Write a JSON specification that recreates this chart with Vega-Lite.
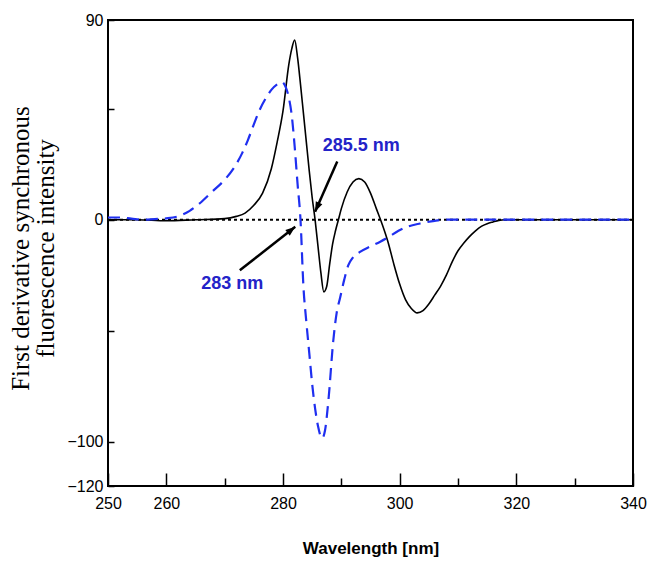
{
  "$schema": "https://vega.github.io/schema/vega-lite/v6.json",
  "width": 525,
  "height": 466,
  "autosize": {"type": "none"},
  "padding": {"left": 108, "top": 20, "right": 15, "bottom": 76},
  "background": "white",
  "config": {
    "view": {"stroke": "black", "strokeWidth": 2},
    "axis": {"grid": false, "domain": false, "tickColor": "black", "labelColor": "black", "titleColor": "black", "tickWidth": 1.5}
  },
  "datasets": {
    "solid": [
      {"wavelength": 250, "value": 0}, {"wavelength": 255, "value": 0}, {"wavelength": 260, "value": -0.5},
      {"wavelength": 265, "value": 0}, {"wavelength": 270, "value": 0.5}, {"wavelength": 272, "value": 1.5},
      {"wavelength": 273.5, "value": 3}, {"wavelength": 275, "value": 6.5}, {"wavelength": 276.5, "value": 12},
      {"wavelength": 278, "value": 23}, {"wavelength": 279, "value": 35}, {"wavelength": 280, "value": 49},
      {"wavelength": 281, "value": 70}, {"wavelength": 281.5, "value": 77}, {"wavelength": 282, "value": 81},
      {"wavelength": 282.5, "value": 73}, {"wavelength": 283, "value": 61}, {"wavelength": 283.5, "value": 48},
      {"wavelength": 284, "value": 35}, {"wavelength": 284.5, "value": 22}, {"wavelength": 285, "value": 10},
      {"wavelength": 285.5, "value": 0}, {"wavelength": 286, "value": -12}, {"wavelength": 286.5, "value": -24},
      {"wavelength": 287, "value": -32.5}, {"wavelength": 287.5, "value": -30}, {"wavelength": 288, "value": -20},
      {"wavelength": 288.5, "value": -11}, {"wavelength": 289, "value": -5}, {"wavelength": 289.5, "value": 0},
      {"wavelength": 290, "value": 5}, {"wavelength": 291, "value": 12.5}, {"wavelength": 292, "value": 17},
      {"wavelength": 293, "value": 18.5}, {"wavelength": 294, "value": 17}, {"wavelength": 295, "value": 12},
      {"wavelength": 296, "value": 5}, {"wavelength": 297, "value": -2}, {"wavelength": 298, "value": -10},
      {"wavelength": 299, "value": -20}, {"wavelength": 300, "value": -29}, {"wavelength": 301, "value": -36},
      {"wavelength": 302, "value": -40}, {"wavelength": 303, "value": -42}, {"wavelength": 304, "value": -41},
      {"wavelength": 305, "value": -38}, {"wavelength": 306, "value": -34}, {"wavelength": 307, "value": -30},
      {"wavelength": 308, "value": -25}, {"wavelength": 309, "value": -19}, {"wavelength": 310, "value": -14},
      {"wavelength": 311, "value": -10.5}, {"wavelength": 312, "value": -7.5}, {"wavelength": 313, "value": -5},
      {"wavelength": 314, "value": -3}, {"wavelength": 315, "value": -1.8}, {"wavelength": 316, "value": -1},
      {"wavelength": 317, "value": -0.3}, {"wavelength": 318, "value": 0}, {"wavelength": 325, "value": 0},
      {"wavelength": 340, "value": 0}
    ],
    "dashed": [
      {"wavelength": 250, "value": 1}, {"wavelength": 252, "value": 1}, {"wavelength": 254, "value": 0.5},
      {"wavelength": 256, "value": 0}, {"wavelength": 258, "value": 0.3}, {"wavelength": 260, "value": 0.6},
      {"wavelength": 262, "value": 1.5}, {"wavelength": 264, "value": 4}, {"wavelength": 266, "value": 8},
      {"wavelength": 268, "value": 13}, {"wavelength": 270, "value": 18}, {"wavelength": 271.5, "value": 23},
      {"wavelength": 273, "value": 30}, {"wavelength": 274, "value": 36}, {"wavelength": 275, "value": 43},
      {"wavelength": 276, "value": 49.5}, {"wavelength": 277, "value": 54.5}, {"wavelength": 278, "value": 58.5},
      {"wavelength": 279, "value": 61}, {"wavelength": 279.8, "value": 62}, {"wavelength": 280.5, "value": 59.5},
      {"wavelength": 281, "value": 55}, {"wavelength": 281.5, "value": 47}, {"wavelength": 282, "value": 33},
      {"wavelength": 282.5, "value": 16}, {"wavelength": 283, "value": 0}, {"wavelength": 283.5, "value": -30},
      {"wavelength": 284, "value": -46}, {"wavelength": 284.5, "value": -60}, {"wavelength": 285, "value": -74},
      {"wavelength": 285.5, "value": -85}, {"wavelength": 286, "value": -93}, {"wavelength": 286.7, "value": -98.5},
      {"wavelength": 287.2, "value": -95}, {"wavelength": 287.8, "value": -81}, {"wavelength": 288.6, "value": -55},
      {"wavelength": 289.2, "value": -42}, {"wavelength": 289.8, "value": -35}, {"wavelength": 290.5, "value": -27},
      {"wavelength": 291.2, "value": -20.5}, {"wavelength": 292, "value": -17}, {"wavelength": 293.2, "value": -14.5},
      {"wavelength": 295, "value": -12}, {"wavelength": 296.6, "value": -10}, {"wavelength": 298, "value": -8},
      {"wavelength": 299.8, "value": -5}, {"wavelength": 301.5, "value": -3}, {"wavelength": 303.5, "value": -1.7},
      {"wavelength": 306, "value": -0.5}, {"wavelength": 308, "value": 0}, {"wavelength": 320, "value": 0},
      {"wavelength": 340, "value": 0}
    ],
    "notes": [
      {"label": "285.5 nm", "tx": 293.4, "ty": 33, "x0": 289.3, "y0": 26.2, "x1": 285.5, "y1": 3.6},
      {"label": "283 nm", "tx": 271.3, "ty": -28.8, "x0": 272.6, "y0": -22.8, "x1": 282.1, "y1": -3.2}
    ]
  },
  "resolve": {"axis": {"x": "independent"}},
  "layer": [
    {
      "data": {"values": [{"level": 0}]},
      "mark": {"type": "rule", "color": "black", "strokeWidth": 2, "strokeDash": [3, 3]},
      "encoding": {
        "y": {
          "field": "level", "type": "quantitative",
          "scale": {"domain": [-120, 90], "nice": false, "zero": false},
          "axis": {
            "values": [90, 50, 0, -50, -100, -120],
            "labelExpr": "indexof([90, 0, -100, -120], datum.value) >= 0 ? datum.label : ''",
            "tickSize": -6,
            "labelPadding": 11,
            "labelFont": "Liberation Sans",
            "labelFontSize": 16,
            "title": ["First derivative synchronous", "fluorescence intensity"],
            "titleFont": "Liberation Serif",
            "titleFontSize": 25,
            "titleFontWeight": "normal",
            "titleLineHeight": 25,
            "titleAngle": -90,
            "titleAlign": "center",
            "titleBaseline": "middle",
            "titleX": -88,
            "titleY": 228
          }
        }
      }
    },
    {
      "data": {"name": "solid"},
      "mark": {"type": "line", "color": "black", "strokeWidth": 1.6, "interpolate": "monotone"},
      "encoding": {
        "x": {
          "field": "wavelength", "type": "quantitative",
          "scale": {"domain": [250, 340], "nice": false, "zero": false},
          "axis": {
            "orient": "bottom",
            "values": [250, 260, 280, 300, 320, 340],
            "tickSize": -13,
            "labelPadding": 22,
            "labelFont": "Liberation Sans",
            "labelFontSize": 16,
            "labelFlush": false,
            "title": "Wavelength [nm]",
            "titleFont": "Liberation Sans",
            "titleFontSize": 17,
            "titleFontWeight": "bold",
            "titleBaseline": "middle",
            "titleY": 62
          }
        },
        "y": {"field": "value", "type": "quantitative"}
      }
    },
    {
      "data": {"name": "dashed"},
      "mark": {"type": "line", "color": "#1f2ff0", "strokeWidth": 2.2, "strokeDash": [12, 7], "interpolate": "monotone"},
      "encoding": {
        "x": {
          "field": "wavelength", "type": "quantitative",
          "axis": {
            "orient": "bottom",
            "values": [270, 290, 310, 330],
            "tickSize": -8,
            "labels": false,
            "title": null
          }
        },
        "y": {"field": "value", "type": "quantitative"}
      }
    },
    {
      "data": {"name": "notes"},
      "mark": {"type": "rule", "color": "black", "strokeWidth": 2.5},
      "encoding": {
        "x": {"field": "x0", "type": "quantitative", "axis": null},
        "y": {"field": "y0", "type": "quantitative"},
        "x2": {"field": "x1"},
        "y2": {"field": "y1"}
      }
    },
    {
      "data": {"name": "notes"},
      "transform": [{"filter": "datum.label === '285.5 nm'"}],
      "mark": {"type": "point", "shape": "M0,0L0.55,1.5L-0.55,1.5Z", "filled": true, "color": "black", "opacity": 1, "size": 170, "angle": 204},
      "encoding": {
        "x": {"field": "x1", "type": "quantitative", "axis": null},
        "y": {"field": "y1", "type": "quantitative"}
      }
    },
    {
      "data": {"name": "notes"},
      "transform": [{"filter": "datum.label === '283 nm'"}],
      "mark": {"type": "point", "shape": "M0,0L0.55,1.5L-0.55,1.5Z", "filled": true, "color": "black", "opacity": 1, "size": 170, "angle": 52},
      "encoding": {
        "x": {"field": "x1", "type": "quantitative", "axis": null},
        "y": {"field": "y1", "type": "quantitative"}
      }
    },
    {
      "data": {"name": "notes"},
      "mark": {"type": "text", "font": "Liberation Sans", "fontWeight": "bold", "fontSize": 18, "color": "#2323c8", "align": "center", "baseline": "middle"},
      "encoding": {
        "x": {"field": "tx", "type": "quantitative", "axis": null},
        "y": {"field": "ty", "type": "quantitative"},
        "text": {"field": "label"}
      }
    }
  ]
}
